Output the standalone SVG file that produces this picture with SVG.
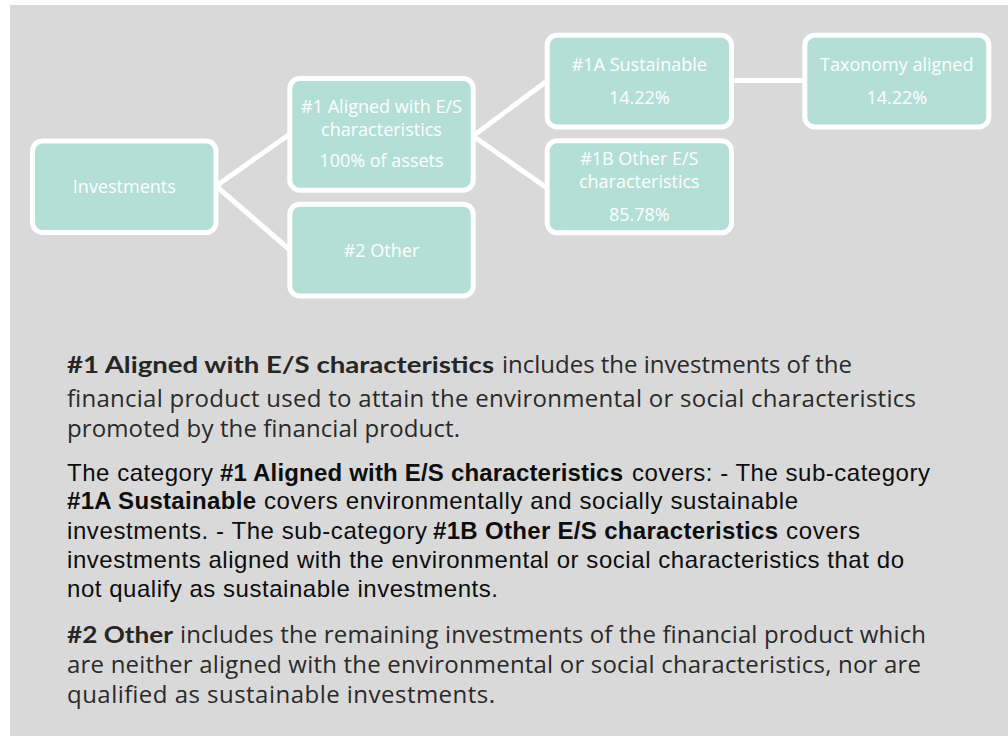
<svg xmlns="http://www.w3.org/2000/svg" width="1008" height="736" viewBox="0 0 1008 736">
<style>
.node rect{fill:#b3dfd7;stroke:#ffffff;stroke-width:5}
.node text{font-family:"Open Sans","Noto Sans",sans-serif;font-size:18px;fill:#ffffff;text-anchor:middle}
.conn line{stroke:#ffffff;stroke-width:5;stroke-linecap:butt}
.g{font-family:"Lato","Open Sans",sans-serif;font-weight:700;font-size:23px;fill:#262626}
.r{font-family:"Open Sans","Noto Sans",sans-serif;font-size:24px;fill:#2a2a2a}
.a{font-family:"Liberation Sans",Arial,sans-serif;font-size:24px;fill:#0d0d0d}
.ab{font-family:"Liberation Sans",Arial,sans-serif;font-size:24px;font-weight:700;fill:#0d0d0d}
</style>
<rect x="10" y="5" width="998" height="731" fill="#d9d9d9"/>
<g id="connectors" class="conn">
<line x1="216" y1="186" x2="290" y2="134"/>
<line x1="216" y1="186" x2="290" y2="250"/>
<line x1="473" y1="136" x2="547" y2="81"/>
<line x1="473" y1="136" x2="547" y2="188"/>
<line x1="731" y1="80.5" x2="805" y2="80.5"/>
</g>
<g id="investments" class="node">
<rect x="32.5" y="141" width="183.5" height="91.5" rx="10"/>
<text x="124.3" y="193">Investments</text>
</g>
<g id="aligned" class="node">
<rect x="289.8" y="78.5" width="183.4" height="111.7" rx="10"/>
<text x="381.5" y="113">#1 Aligned with E/S</text>
<text x="381.5" y="135.5">characteristics</text>
<text x="381.5" y="166.5">100% of assets</text>
</g>
<g id="other" class="node">
<rect x="289.8" y="204.2" width="183.4" height="91.7" rx="10"/>
<text x="381.5" y="257">#2 Other</text>
</g>
<g id="sustainable" class="node">
<rect x="547.2" y="35.2" width="184.3" height="91.7" rx="10"/>
<text x="639.3" y="71.3">#1A Sustainable</text>
<text x="639.3" y="104">14.22%</text>
</g>
<g id="taxonomy" class="node">
<rect x="804.8" y="35.2" width="184" height="91.7" rx="10"/>
<text x="896.8" y="71.3">Taxonomy aligned</text>
<text x="896.8" y="104">14.22%</text>
</g>
<g id="otheres" class="node">
<rect x="547.2" y="140.8" width="184.3" height="92" rx="10"/>
<text x="639.3" y="165">#1B Other E/S</text>
<text x="639.3" y="188.3">characteristics</text>
<text x="639.3" y="220.7">85.78%</text>
</g>
<g id="text">
<text class="g" x="67" y="373" textLength="427" lengthAdjust="spacingAndGlyphs">#1 Aligned with E/S characteristics</text>
<text class="r" x="502" y="373" textLength="350" lengthAdjust="spacing">includes the investments of the</text>
<text class="r" x="67" y="407" textLength="849" lengthAdjust="spacing">financial product used to attain the environmental or social characteristics</text>
<text class="r" x="67" y="437" textLength="393" lengthAdjust="spacing">promoted by the financial product.</text>

<text class="a" x="67" y="481" textLength="146" lengthAdjust="spacing">The category</text>
<text class="ab" x="220" y="481" textLength="403" lengthAdjust="spacing">#1 Aligned with E/S characteristics</text>
<text class="a" x="632" y="481" textLength="298" lengthAdjust="spacing">covers: - The sub-category</text>
<text class="ab" x="67" y="509" textLength="189" lengthAdjust="spacing">#1A Sustainable</text>
<text class="a" x="264" y="509" textLength="534" lengthAdjust="spacing">covers environmentally and socially sustainable</text>
<text class="a" x="67" y="539" textLength="360" lengthAdjust="spacing">investments. - The sub-category</text>
<text class="ab" x="433" y="539" textLength="345" lengthAdjust="spacing">#1B Other E/S characteristics</text>
<text class="a" x="786" y="539" textLength="74" lengthAdjust="spacing">covers</text>
<text class="a" x="67" y="568" textLength="837" lengthAdjust="spacing">investments aligned with the environmental or social characteristics that do</text>
<text class="a" x="67" y="597" textLength="431" lengthAdjust="spacing">not qualify as sustainable investments.</text>

<text class="g" x="67" y="643" textLength="106" lengthAdjust="spacingAndGlyphs">#2 Other</text>
<text class="r" x="180" y="643" textLength="746" lengthAdjust="spacing">includes the remaining investments of the financial product which</text>
<text class="r" x="67" y="673" textLength="854" lengthAdjust="spacing">are neither aligned with the environmental or social characteristics, nor are</text>
<text class="r" x="67" y="703" textLength="428" lengthAdjust="spacing">qualified as sustainable investments.</text>
</g>
</svg>
